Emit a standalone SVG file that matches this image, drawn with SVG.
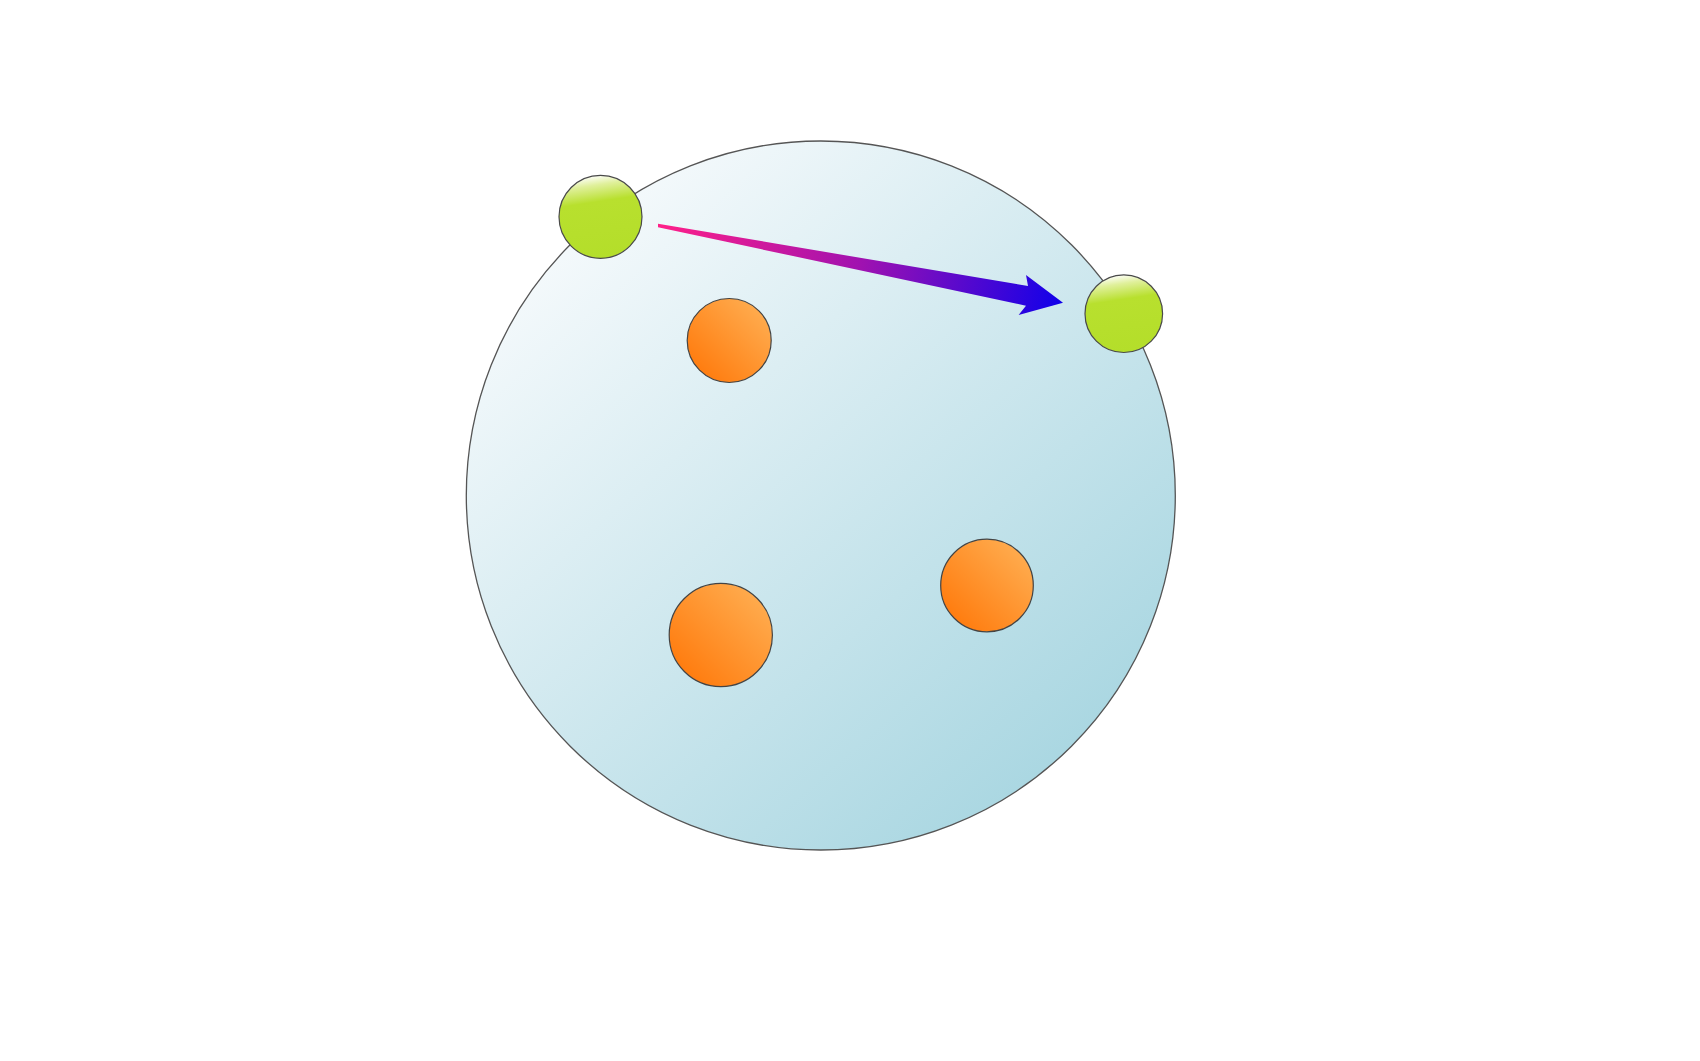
<svg xmlns="http://www.w3.org/2000/svg" width="1700" height="1061" viewBox="0 0 1700 1061">
<style>
.big{fill:url(#gBig);stroke:#555;stroke-width:1.3}
.green{fill:url(#gGreen);stroke:#4a4a4a;stroke-width:1.2}
.orange{fill:url(#gOrange);stroke:#444;stroke-width:1.2}
</style>
<defs>
<linearGradient id="gBig" x1="0.15" y1="0.1" x2="0.85" y2="0.9">
<stop offset="0" stop-color="#f6fafc"/>
<stop offset="1" stop-color="#a8d6e1"/>
</linearGradient>
<linearGradient id="gGreen" x1="0.4" y1="0" x2="0.55" y2="1">
<stop offset="0" stop-color="#ffffff"/>
<stop offset="0.12" stop-color="#e0f09c"/>
<stop offset="0.32" stop-color="#b8e02e"/>
<stop offset="1" stop-color="#b4de2a"/>
</linearGradient>
<linearGradient id="gOrange" x1="0.15" y1="0.85" x2="0.85" y2="0.15">
<stop offset="0" stop-color="#ff7d10"/>
<stop offset="1" stop-color="#ffaa4c"/>
</linearGradient>
<linearGradient id="gArrow" gradientUnits="userSpaceOnUse" x1="658" y1="225" x2="1063" y2="303">
<stop offset="0" stop-color="#ff2088"/>
<stop offset="0.5" stop-color="#a012b0"/>
<stop offset="1" stop-color="#1000ea"/>
</linearGradient>
</defs>
<g id="cell">
<circle class="big" cx="820.8" cy="495.5" r="354.5"/>
</g>
<g id="orange1"><circle class="orange" cx="729.2" cy="340.5" r="42"/></g>
<g id="orange2"><circle class="orange" cx="720.8" cy="635" r="51.6"/></g>
<g id="orange3"><circle class="orange" cx="987" cy="585.5" r="46.3"/></g>
<g id="green1"><circle class="green" cx="600.5" cy="216.8" r="41.5"/></g>
<g id="green2"><circle class="green" cx="1123.8" cy="313.7" r="38.8"/></g>
<g id="connectors">
<polygon fill="url(#gArrow)" points="658,223.8 1028,286 1026,275 1063,302.7 1018.6,315 1026,305.7 658,227.2"/>
</g>
</svg>
